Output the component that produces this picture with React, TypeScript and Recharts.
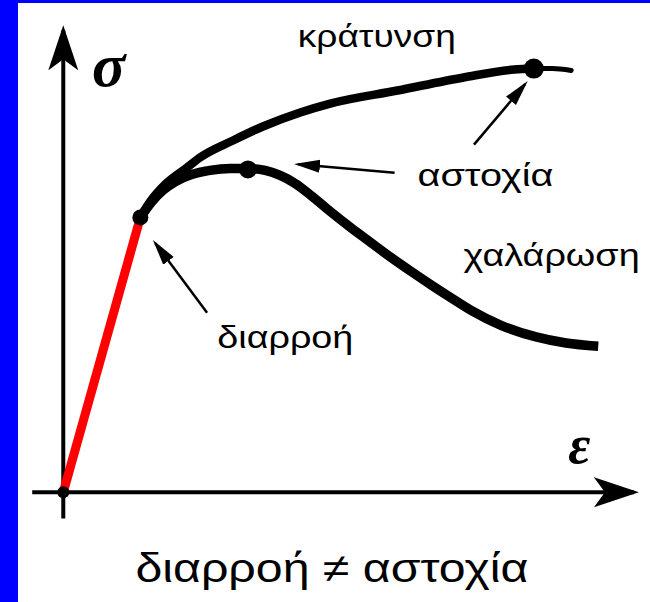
import React from 'react';
import { ComposedChart, Line, Scatter, XAxis, YAxis } from 'recharts';

const W = 650;
const H = 602;
const strainDomain: [number, number] = [-11, 102];
const stressDomain: [number, number] = [-23.5, 105.5];

// elastic branch (red)
const elasticStrain = [0, 13.4];
const elasticStress = [0, 58.9];

// hardening branch (κράτυνση)
const hardStrain = [13.4, 15.0, 17.9, 21.5, 23.7, 29.5, 34.7, 41.2, 46.4, 58.1, 69.6, 78.4, 81.8];
const hardStress = [58.9, 62.1, 66.2, 69.6, 71.7, 75.4, 78.4, 81.4, 83.3, 86.1, 88.9, 90.6, 90.8];
const hardTailStrain = [81.8, 85.0, 88.3];
const hardTailStress = [90.8, 90.8, 90.4];

// softening branch (χαλάρωση)
const softStrain = [13.4, 15.4, 17.3, 19.5, 22.3, 25.5, 29.0, 32.1, 35.1, 37.7, 40.3, 43.3, 46.4, 49.9, 53.4, 56.9, 60.4, 63.9, 67.4, 70.9, 76.1, 82.2, 87.4, 93.0];
const softStress = [58.9, 62.3, 64.7, 66.6, 68.1, 69.0, 69.4, 69.4, 69.0, 67.9, 66.2, 63.4, 60.2, 56.8, 53.6, 50.4, 47.4, 44.5, 41.7, 39.0, 35.8, 33.3, 32.0, 31.3];

// key points
const originPt = { x: 0, y: 0 };
const yieldPt = { x: 13.4, y: 58.9 };
const hardFailPt = { x: 81.8, y: 90.8 };
const softFailPt = { x: 32.1, y: 69.2 };

// axes
const xAxisStrain = [-5.4, 99.2];
const xAxisStress = [0, 0];
const yAxisStrain = [0, 0];
const yAxisStress = [-5.6, 99.0];

// annotation arrows (tail -> tip)
const arrow1Strain = [71.4, 80.3];
const arrow1Stress = [74.5, 87.5];
const arrow2Strain = [57.6, 40.8];
const arrow2Stress = [68.5, 70.3];
const arrow3Strain = [25.0, 16.0];
const arrow3Stress = [38.5, 53.4];

// labels
const hardLabel = { x: 54.5, y: 95.5, text: 'κράτυνση' };
const failLabel = { x: 73.4, y: 65.7, text: 'αστοχία' };
const softLabel = { x: 84.9, y: 48.6, text: 'χαλάρωση' };
const yieldLabel = { x: 38.6, y: 31.0, text: 'διαρροή' };
const stressSymbol = { x: 7.9, y: 87.0, text: 'σ' };
const strainSymbol = { x: 89.7, y: 6.2, text: 'ε' };
const titleLabel = { x: 46.7, y: -19.3, text: 'διαρροή ≠ αστοχία' };

const zip = (xs: number[], ys: number[]) => xs.map((x, i) => ({ x, y: ys[i] }));

const dotShape = (r: number) => (p: any) => <circle cx={p.cx} cy={p.cy} r={r} fill="#000" />;
const textShape = (family: string, size: number, weight: string, style: string, length?: number) => (p: any) => (
  <text
    x={p.cx}
    y={p.cy}
    textAnchor="middle"
    fontFamily={family}
    fontSize={size}
    fontWeight={weight}
    fontStyle={style}
    fill="#000"
    {...(length ? { textLength: length, lengthAdjust: 'spacingAndGlyphs' } : {})}
  >
    {p.payload.text}
  </text>
);

const sans = '"Liberation Sans", Arial, sans-serif';
const serif = '"Liberation Serif", "Times New Roman", serif';

const lineCommon = { dot: false, activeDot: false, isAnimationActive: false, dataKey: 'y' } as const;

export default function App() {
  return (
    <div style={{ position: 'absolute', left: 0, top: 0, width: W, height: H, background: '#0000ff' }}>
      <div style={{ position: 'absolute', left: 18, top: 3, width: W - 18, height: H - 3, background: '#ffffff' }} />
      <div style={{ position: 'absolute', left: 0, top: 0 }}>
        <ComposedChart width={W} height={H} margin={{ top: 0, right: 0, bottom: 0, left: 0 }}>
          <defs>
            <marker id="axisHead" markerUnits="userSpaceOnUse" markerWidth="46" markerHeight="32" refX="40" refY="16" orient="auto">
              <path d="M0,1 L45,16 L0,31 L11,16 Z" fill="#000" />
            </marker>
            <marker id="arrowHead" markerUnits="userSpaceOnUse" markerWidth="26" markerHeight="16" refX="22" refY="8" orient="auto">
              <path d="M0,1.5 L26,8 L0,14.5 Z" fill="#000" />
            </marker>
          </defs>
          <XAxis type="number" dataKey="x" domain={strainDomain} allowDataOverflow hide />
          <YAxis type="number" dataKey="y" domain={stressDomain} allowDataOverflow hide />

          <Line {...lineCommon} data={zip(xAxisStrain, xAxisStress)} type="linear" stroke="#000" strokeWidth={4} markerEnd="url(#axisHead)" />
          <Line {...lineCommon} data={zip(yAxisStrain, yAxisStress)} type="linear" stroke="#000" strokeWidth={4} markerEnd="url(#axisHead)" />

          <Line {...lineCommon} data={zip(hardTailStrain, hardTailStress)} type="monotone" stroke="#000" strokeWidth={5} strokeLinecap="round" />
          <Line {...lineCommon} data={zip(hardStrain, hardStress)} type="monotone" stroke="#000" strokeWidth={8.5} strokeLinecap="round" />
          <Line {...lineCommon} data={zip(softStrain, softStress)} type="monotone" stroke="#000" strokeWidth={9.5} />
          <Line {...lineCommon} data={zip(elasticStrain, elasticStress)} type="linear" stroke="#ff0000" strokeWidth={9} />

          <Scatter data={[originPt]} shape={dotShape(6)} isAnimationActive={false} />
          <Scatter data={[yieldPt]} shape={dotShape(8)} isAnimationActive={false} />
          <Scatter data={[softFailPt]} shape={dotShape(9)} isAnimationActive={false} />
          <Scatter data={[hardFailPt]} shape={dotShape(10)} isAnimationActive={false} />

          <Line {...lineCommon} data={zip(arrow1Strain, arrow1Stress)} type="linear" stroke="#000" strokeWidth={2.5} markerEnd="url(#arrowHead)" />
          <Line {...lineCommon} data={zip(arrow2Strain, arrow2Stress)} type="linear" stroke="#000" strokeWidth={2.5} markerEnd="url(#arrowHead)" />
          <Line {...lineCommon} data={zip(arrow3Strain, arrow3Stress)} type="linear" stroke="#000" strokeWidth={2.5} markerEnd="url(#arrowHead)" />

          <Scatter data={[hardLabel]} shape={textShape(sans, 32, 'normal', 'normal', 158)} isAnimationActive={false} />
          <Scatter data={[failLabel]} shape={textShape(sans, 32, 'normal', 'normal', 136)} isAnimationActive={false} />
          <Scatter data={[softLabel]} shape={textShape(sans, 32, 'normal', 'normal', 176)} isAnimationActive={false} />
          <Scatter data={[yieldLabel]} shape={textShape(sans, 32, 'normal', 'normal', 136)} isAnimationActive={false} />
          <Scatter data={[stressSymbol]} shape={textShape(serif, 62, 'bold', 'italic')} isAnimationActive={false} />
          <Scatter data={[strainSymbol]} shape={textShape(serif, 54, 'bold', 'italic')} isAnimationActive={false} />
          <Scatter data={[titleLabel]} shape={textShape(sans, 40, 'normal', 'normal', 393)} isAnimationActive={false} />
        </ComposedChart>
      </div>
    </div>
  );
}
